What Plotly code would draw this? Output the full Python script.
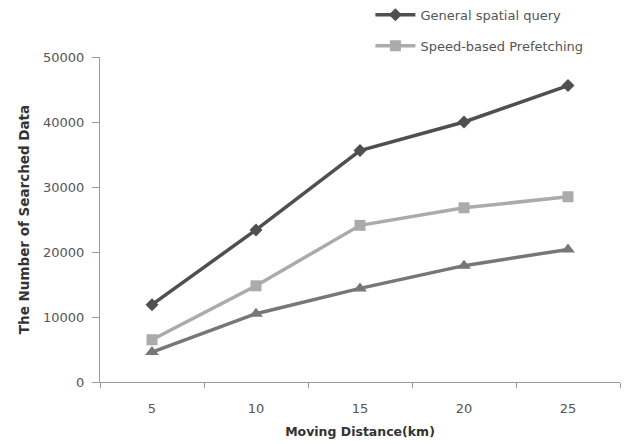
import plotly.graph_objects as go

distance = [5, 10, 15, 20, 25]
general_query = [11900, 23400, 35600, 40000, 45600]
speed_prefetch = [6500, 14800, 24100, 26800, 28500]
third_series = [4600, 10500, 14400, 17900, 20400]

fig = go.Figure()
fig.add_trace(go.Scatter(
    x=distance, y=general_query, name="General spatial query", legendgroup="a",
    mode="lines+markers", line=dict(color="#4f4f4f", width=3.5),
    marker=dict(symbol="diamond", size=10, color="#4f4f4f")))
fig.add_trace(go.Scatter(
    x=distance, y=speed_prefetch, name="Speed-based Prefetching", legendgroup="b",
    mode="lines+markers", line=dict(color="#ababab", width=3.5),
    marker=dict(symbol="square", size=11, color="#ababab")))
fig.add_trace(go.Scatter(
    x=distance, y=third_series, name="Proposed", legendgroup="c",
    mode="lines+markers", line=dict(color="#777777", width=3.5),
    marker=dict(symbol="triangle-up", size=12, color="#777777"),
    showlegend=False))

font_family = "DejaVu Sans, Verdana, sans-serif"
fig.update_layout(
    width=640, height=444,
    margin=dict(l=100, r=20, t=57, b=62, autoexpand=False),
    paper_bgcolor="white", plot_bgcolor="white",
    font=dict(family=font_family, color="#555555", size=13),
    legend=dict(x=0.52, y=1.176, xanchor="left", yanchor="top",
                bgcolor="rgba(0,0,0,0)", font=dict(size=13, color="#555555"),
                tracegroupgap=11, itemwidth=40),
    showlegend=True,
)
fig.update_xaxes(
    range=[2.5, 27.5], tickmode="array", tickvals=distance,
    ticktext=[str(v) for v in distance], ticks="", ticklabelstandoff=14,
    showline=True, linecolor="#999999", linewidth=1, showgrid=False, zeroline=False,
    minor=dict(tick0=2.5, dtick=5, ticks="outside", ticklen=5, tickcolor="#999999", showgrid=False),
    title=dict(text="<b>Moving Distance(km)</b>", font=dict(size=12.5, color="#333333"), standoff=12),
    tickfont=dict(size=13, color="#555555"),
)
fig.update_yaxes(
    range=[0, 50000], tickmode="linear", tick0=0, dtick=10000, tickformat="d",
    ticks="outside", ticklen=7, tickcolor="#999999", ticklabelstandoff=5,
    showline=True, linecolor="#999999", linewidth=1, showgrid=False, zeroline=False,
    title=dict(text="<b>The Number of Searched Data</b>", font=dict(size=13.5, color="#333333"), standoff=10),
    tickfont=dict(size=13, color="#555555"),
)

fig.write_html("out.html")
